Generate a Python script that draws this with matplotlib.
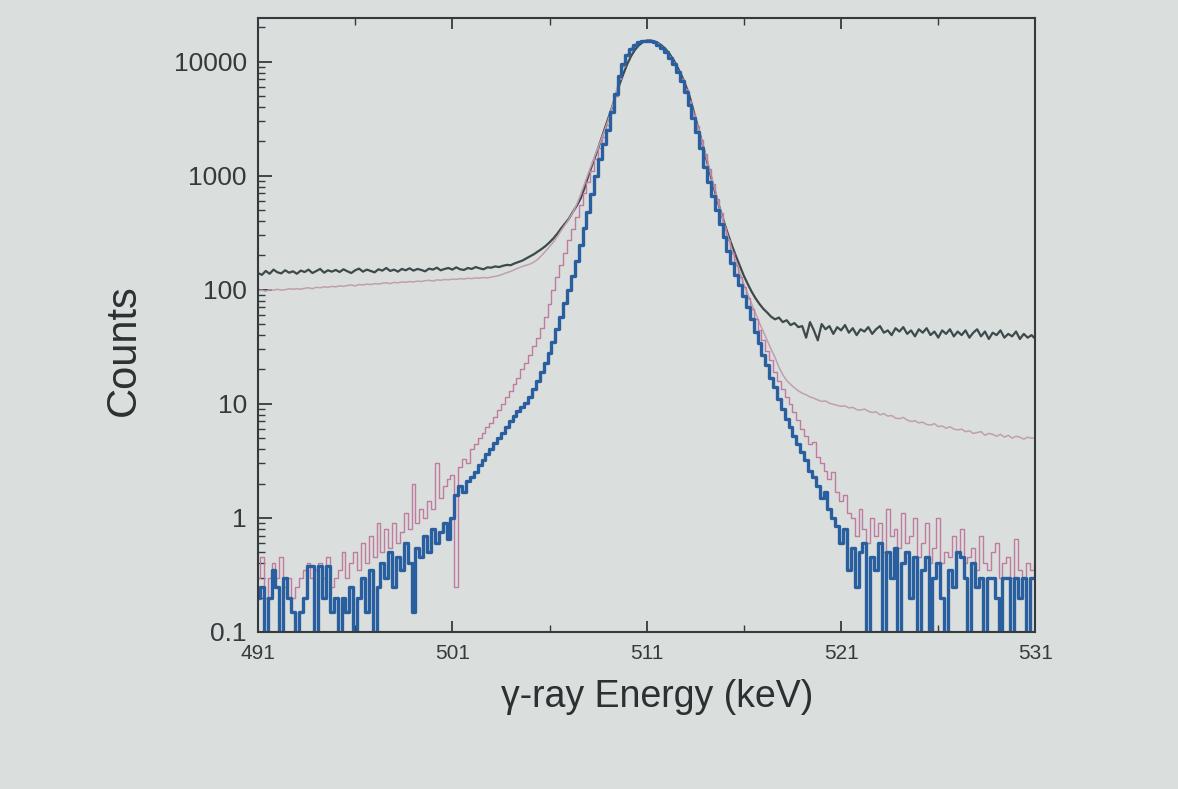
import numpy as np
import matplotlib
matplotlib.use("Agg")
import matplotlib.pyplot as plt

plt.rcParams['font.family'] = ['Liberation Sans', 'DejaVu Sans']

# channel energies, 0.2 keV bins from 491 to 531 keV
energy = np.round(np.arange(491.0, 531.01, 0.2), 1)

# counts, one row per 2 keV (10 bins) + last bin
counts_dark = [
    140, 135, 146, 138, 150, 142, 139, 148, 141, 145,
    138, 147, 143, 150, 140, 146, 152, 141, 148, 144,
    149, 143, 151, 145, 140, 148, 153, 144, 150, 146,
    142, 151, 147, 155, 146, 150, 144, 152, 148, 154,
    147, 152, 149, 145, 153, 150, 156, 148, 152, 155,
    150, 157, 151, 149, 155, 152, 158, 154, 151, 157,
    156, 160, 158, 162, 165, 164, 170, 175, 180, 188,
    196, 205, 216, 228, 242, 260, 282, 310, 345, 380,
    420, 480, 545, 630, 780, 1000, 1250, 1550, 1950, 2450,
    3100, 3900, 5000, 6300, 7800, 9500, 11200, 12700, 13900, 14800,
    15300, 15300, 15000, 14500, 13700, 12700, 11500, 10200, 8800, 7500,
    6200, 5000, 3750, 2800, 2100, 1550, 1150, 850, 640, 490,
    380, 300, 240, 195, 160, 132, 112, 96, 84, 75,
    68, 63, 58, 55, 57, 52, 54, 49, 51, 47,
    48, 38, 52, 44, 36, 50, 45, 48, 41, 47,
    44, 49, 42, 46, 40, 45, 43, 47, 41, 45,
    48, 42, 44, 40, 46, 43, 47, 41, 44, 39,
    45, 42, 46, 40, 43, 38, 44, 41, 45, 39,
    43, 40, 44, 38, 42, 45, 39, 43, 37, 42,
    40, 44, 38, 41, 39, 43, 37, 41, 38, 40,
    37,
]

counts_light_pink = [
    98, 99, 97, 100, 99, 101, 99, 100, 102, 101,
    102, 101, 103, 104, 102, 105, 104, 106, 105, 107,
    106, 108, 107, 109, 110, 108, 111, 110, 112, 111,
    113, 112, 114, 115, 113, 116, 115, 117, 116, 118,
    117, 119, 118, 120, 121, 119, 122, 121, 123, 122,
    124, 123, 125, 124, 126, 125, 127, 126, 128, 127,
    129, 131, 133, 137, 141, 145, 150, 155, 160, 164,
    168, 175, 185, 200, 218, 238, 262, 292, 330, 370,
    415, 475, 560, 680, 850, 1050, 1300, 1600, 1950, 2400,
    3000, 3900, 5200, 7100, 9300, 11400, 13100, 14200, 14900, 15200,
    15300, 15200, 14900, 14300, 13400, 12300, 11100, 9800, 8400, 7100,
    5800, 4600, 3600, 2750, 2100, 1600, 1200, 880, 660, 490,
    370, 285, 220, 175, 140, 112, 92, 75, 62, 51,
    43, 36, 30, 25.5, 21, 18, 16, 14.8, 13.8, 13.0,
    12.4, 12.0, 11.5, 11.2, 10.8, 10.5, 10.6, 10.1, 9.9, 9.7,
    9.5, 9.6, 9.2, 9.3, 8.9, 8.8, 9.0, 8.6, 8.4, 8.5,
    8.0, 8.2, 7.8, 7.9, 7.5, 7.4, 7.6, 7.2, 7.0, 7.1,
    6.8, 6.9, 6.6, 6.5, 6.7, 6.3, 6.4, 6.1, 6.3, 6.0,
    5.9, 6.0, 5.7, 5.8, 5.5, 5.6, 5.7, 5.3, 5.5, 5.4,
    5.2, 5.4, 5.1, 5.3, 5.0, 5.2, 5.1, 4.9, 5.1, 5.0,
    5.0,
]

counts_pink = [
    0.3, 0.45, 0.2, 0.3, 0.4, 0.3, 0.45, 0.25, 0.3, 0.2,
    0.25, 0.3, 0.35, 0.4, 0.3, 0.35, 0.4, 0.3, 0.45, 0.25,
    0.3, 0.35, 0.5, 0.3, 0.4, 0.5, 0.35, 0.6, 0.4, 0.7,
    0.45, 0.9, 0.5, 0.8, 0.55, 0.9, 0.6, 0.75, 1.1, 0.8,
    2.0, 0.9, 1.2, 1.0, 1.4, 1.2, 3.0, 1.5, 1.9, 2.2,
    2.4, 0.25, 2.8, 3.3, 3.0, 4.0, 4.4, 5.0, 5.6, 6.2,
    6.8, 7.6, 8.8, 10, 11.5, 13, 15, 17, 20, 23,
    27, 32, 38, 46, 58, 75, 100, 130, 165, 210,
    270, 340, 430, 550, 700, 880, 1100, 1400, 1750, 2200,
    2800, 3700, 5000, 7000, 9200, 11300, 13000, 14100, 14800, 15100,
    15200, 15100, 14800, 14200, 13300, 12200, 11000, 9700, 8300, 7000,
    5700, 4500, 3500, 2700, 2050, 1550, 1150, 850, 630, 470,
    350, 270, 210, 165, 130, 105, 85, 68, 55, 44,
    36, 29, 24, 19, 16, 13.5, 11.5, 10, 8.5, 7.2,
    6.0, 5.2, 4.4, 4.6, 3.4, 3.0, 2.6, 2.2, 2.5, 1.7,
    1.4, 1.6, 1.1, 1.0, 0.7, 1.2, 0.8, 0.6, 1.0, 0.7,
    0.9, 0.5, 1.2, 0.7, 0.8, 0.55, 1.1, 0.6, 0.7, 1.0,
    0.45, 0.6, 0.9, 0.4, 0.55, 1.0, 0.4, 0.5, 0.45, 0.7,
    0.5, 0.8, 0.4, 0.45, 0.55, 0.35, 0.7, 0.4, 0.35, 0.5,
    0.6, 0.3, 0.4, 0.45, 0.3, 0.65, 0.35, 0.3, 0.4, 0.35,
    0.4,
]

counts_blue = [
    0.2, 0.25, 0, 0.2, 0.35, 0.25, 0, 0.3, 0.2, 0.15,
    0, 0.15, 0.2, 0.38, 0.38, 0, 0.38, 0.2, 0.38, 0.15,
    0.2, 0, 0.2, 0.15, 0.25, 0, 0.2, 0.3, 0.15, 0.35,
    0, 0.25, 0.4, 0.3, 0.5, 0.25, 0.45, 0.35, 0.6, 0.4,
    0.15, 0.55, 0.45, 0.7, 0.5, 0.8, 0.6, 0.75, 0.9, 0.65,
    1.0, 1.6, 1.9, 1.7, 2.1, 2.3, 2.5, 2.9, 3.2, 3.6,
    4.0, 4.5, 5.0, 5.6, 6.3, 7.0, 7.8, 8.6, 9.4, 10.2,
    11.5, 13.5, 16, 19, 23, 28, 35, 45, 58, 76,
    100, 132, 178, 245, 345, 480, 690, 1000, 1400, 1900,
    2500, 3600, 5200, 7400, 9600, 11500, 13000, 14100, 14700, 15000,
    15100, 15000, 14700, 14100, 13200, 12100, 10800, 9500, 8100, 6700,
    5400, 4200, 3200, 2400, 1750, 1200, 880, 660, 500, 380,
    290, 220, 170, 135, 110, 88, 70, 55, 43, 34,
    27, 22, 17, 14, 11, 9, 7.4, 6.2, 5.2, 4.4,
    3.8, 3.2, 2.6, 2.3, 1.9, 1.5, 1.7, 1.2, 1.0, 0.85,
    0.6, 0.8, 0.35, 0.55, 0.25, 0.5, 0.6, 0, 0.45, 0.35,
    0.6, 0, 0.5, 0.3, 0.55, 0, 0.4, 0.5, 0.2, 0.45,
    0, 0.35, 0.45, 0, 0.3, 0.4, 0.2, 0, 0.35, 0.25,
    0.5, 0.45, 0.3, 0, 0.4, 0.25, 0.3, 0, 0.3, 0.3,
    0.2, 0, 0.3, 0.3, 0, 0.3, 0.2, 0.3, 0, 0.3,
    0.3,
]

x_ticks = [491, 501, 511, 521, 531]
y_ticks = [0.1, 1, 10, 100, 1000, 10000]
y_tick_labels = ['0.1', '1', '10', '100', '1000', '10000']

paper = '#dadedd'
ink = '#353b3c'

fig = plt.figure(figsize=(11.78, 7.89), dpi=100, facecolor=paper)
ax = fig.add_axes([0.219, 0.199, 0.66, 0.778])
ax.set_facecolor(paper)

ax.plot(energy, counts_dark, color='#3d4a4b', lw=1.6)
ax.plot(energy, counts_light_pink, color='#bf9fb0', lw=1.1)
ax.plot(energy, counts_pink, color='#c07c9e', lw=1.0, drawstyle='steps-mid')
ax.plot(energy, counts_blue, color='#2a5f9f', lw=2.4, drawstyle='steps-mid')

ax.set_yscale('log')
ax.set_xlim(491, 531)
ax.set_ylim(0.1, 24000)

ax.set_xticks(x_ticks)
ax.set_xticks(np.arange(496, 531, 10), minor=True)
ax.set_yticks(y_ticks)
ax.set_yticklabels(y_tick_labels)

ax.tick_params(axis='x', which='both', direction='in', top=True, colors=ink,
               labelsize=15, pad=9)
ax.tick_params(axis='x', which='major', length=8, width=1.3)
ax.tick_params(axis='x', which='minor', length=5, width=1.0)
ax.tick_params(axis='y', which='both', direction='in', right=False, colors=ink,
               labelsize=19, pad=8)
ax.tick_params(axis='y', which='major', length=10, width=1.3)
ax.tick_params(axis='y', which='minor', length=5, width=1.0)

for s in ax.spines.values():
    s.set_color(ink)
    s.set_linewidth(1.5)

ax.set_xlabel('γ-ray Energy (keV)', fontsize=27, color='#2b3132')
ax.xaxis.set_label_coords(0.514, -0.076)
ax.set_ylabel('Counts', fontsize=30, color='#2b3132')
ax.yaxis.set_label_coords(-0.147, 0.459)

fig.savefig('out.png', dpi=100, facecolor=paper)
